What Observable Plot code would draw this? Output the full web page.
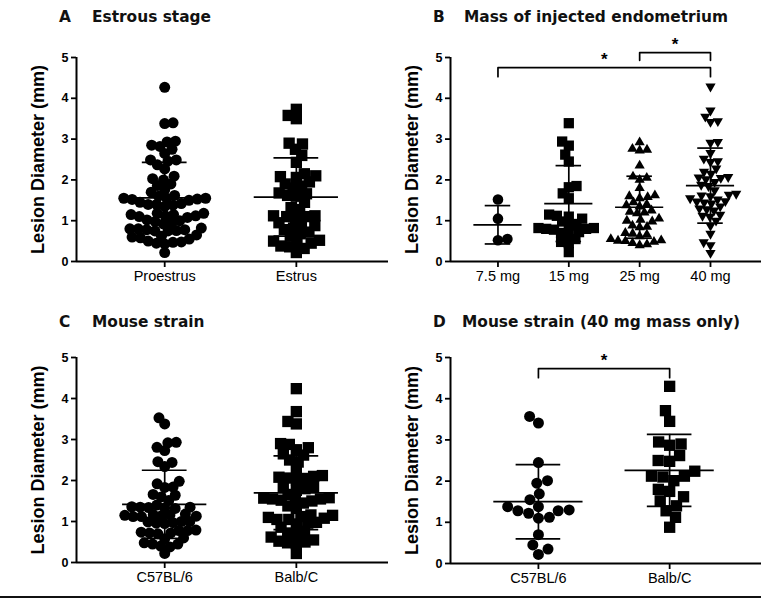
<!DOCTYPE html>
<html>
<head>
<meta charset="utf-8">
<script src="https://cdn.jsdelivr.net/npm/d3@7"></script>
<script src="https://cdn.jsdelivr.net/npm/@observablehq/plot@0.6"></script>
<style>
  body { margin: 0; background: #fff; }
  #wrap { position: relative; width: 761px; height: 607px; background: #fff; overflow: hidden; }
  .panel { position: absolute; }
  .ttl { position: absolute; font-family: "DejaVu Sans", sans-serif; font-weight: bold; font-size: 15.4px; line-height: 15px; color: #111; white-space: nowrap; }
  #rule { position: absolute; left: 0; top: 596px; width: 761px; height: 2px; background: #111; }
  g[aria-label="y-axis tick label"] { font-weight: bold; font-size: 12.5px; }
  g[aria-label="x-axis tick label"] { font-size: 14.5px; }
  g[aria-label="y-axis tick"], g[aria-label="x-axis tick"] { stroke-width: 1.8px; }
</style>
</head>
<body>
<div id="wrap">
  <div class="ttl" style="left:59px;top:10px">A</div>
  <div class="ttl" style="left:92px;top:10px">Estrous stage</div>
  <div class="ttl" style="left:433px;top:10px">B</div>
  <div class="ttl" style="left:464px;top:10px">Mass of injected endometrium</div>
  <div class="ttl" style="left:59px;top:315px">C</div>
  <div class="ttl" style="left:92px;top:315px">Mouse strain</div>
  <div class="ttl" style="left:433px;top:315px">D</div>
  <div class="ttl" style="left:462px;top:315px">Mouse strain (40 mg mass only)</div>
  <div class="panel" id="pa" style="left:0;top:25px"></div>
  <div class="panel" id="pb" style="left:390px;top:25px"></div>
  <div class="panel" id="pc" style="left:0;top:325px"></div>
  <div class="panel" id="pd" style="left:390px;top:325px"></div>
  <div id="rule"></div>
</div>
<script>
// ---------- data ----------
const yTicks = [0, 1, 2, 3, 4, 5];
const yLabel = "Lesion Diameter (mm)";

// A: Estrous stage
const estrousLabels = ["Proestrus", "Estrus"];
const proestrus = [4.27, 3.38, 3.40, 2.95, 2.85, 2.75, 2.65, 2.82, 2.93, 2.49, 2.46, 2.27, 2.37, 2.49,
  2.09, 2.00, 1.90, 2.03, 1.86, 1.76, 1.70, 1.55, 1.53, 1.62, 1.55, 1.60, 1.55, 1.52, 1.50,
  1.42, 1.40, 1.38, 1.45, 1.40, 1.35, 1.18, 1.15, 1.12, 1.15, 1.10, 1.18, 1.12, 1.08,
  1.00, 0.95, 0.98, 0.92, 1.02, 0.80, 0.78, 0.75, 0.82, 0.76, 0.80, 0.78, 0.75,
  0.62, 0.58, 0.60, 0.65, 0.55, 0.48, 0.45, 0.50, 0.43, 0.47, 0.22];
const estrus = [3.73, 3.50, 3.58, 2.75, 2.90, 2.88, 2.60, 2.43, 2.08, 1.95, 2.15, 2.06, 2.10,
  1.90, 1.85, 1.80, 1.66, 1.62, 1.68, 1.60, 1.45, 1.32, 1.27, 1.12, 1.10, 1.08, 1.12, 1.10,
  0.92, 0.88, 0.82, 0.78, 0.72, 0.95, 0.68, 0.62, 0.50, 0.52, 0.45, 0.48, 0.36, 0.38, 0.32, 0.22];
const estrousMean = [1.56, 1.58];
const estrousSD = [0.87, 0.96];

// B: Mass of injected endometrium
const massLabels = ["7.5 mg", "15 mg", "25 mg", "40 mg"];
const mass7_5 = [1.52, 1.05, 0.52, 0.55];
const mass15 = [3.39, 2.94, 2.84, 2.62, 2.45, 1.85, 1.82, 1.67, 1.55, 1.15, 1.12, 1.10, 1.05,
  0.98, 0.92, 0.88, 0.82, 0.80, 0.80, 0.78, 0.82, 0.70, 0.68, 0.72, 0.55, 0.48, 0.45, 0.23];
const mass25 = [2.76, 2.72, 2.74, 2.92, 2.35, 2.08, 2.05, 2.00, 1.80, 1.60, 1.55, 1.58, 1.62,
  1.45, 1.40, 1.35, 1.38, 1.25, 1.20, 1.18, 1.22, 1.05, 1.00, 0.98, 1.02, 0.85, 0.84, 0.88,
  0.70, 0.66, 0.68, 0.62, 0.55, 0.52, 0.50, 0.48, 0.51, 0.45, 0.42, 0.40];
const mass40 = [4.29, 3.70, 3.55, 3.42, 3.44, 2.93, 2.91, 2.66, 2.52, 2.46, 2.44, 2.28, 2.20, 2.15,
  2.06, 2.05, 2.07, 2.02, 1.95, 1.88, 1.85, 1.75, 1.66, 1.62, 1.64, 1.60, 1.55, 1.52,
  1.47, 1.45, 1.48, 1.42, 1.35, 1.30, 1.28, 1.25, 1.15, 1.12, 1.10, 1.00, 0.88, 0.68, 0.47, 0.40, 0.21];
const massMean = [0.90, 1.42, 1.33, 1.86];
const massSD = [0.47, 0.93, 0.76, 0.92];
const massBracketFrom = [0, 2];
const massBracketTo = [3, 3];
const massBracketLevel = [4.75, 5.12];
const massBracketDrop = [4.53, 4.93];

// C: Mouse strain
const strainLabels = ["C57BL/6", "Balb/C"];
const strainC57 = [3.53, 3.38, 2.93, 2.92, 2.81, 2.73, 2.46, 2.44, 2.34, 1.98, 1.92, 1.84, 1.83,
  1.64, 1.66, 1.60, 1.51, 1.40, 1.35, 1.33, 1.36, 1.34, 1.32, 1.35,
  1.15, 1.12, 1.18, 1.16, 1.17, 1.14, 1.12, 1.13, 1.00, 0.97, 0.95, 0.96, 0.99, 1.00,
  0.78, 0.72, 0.70, 0.79, 0.72, 0.74, 0.78, 0.58, 0.60, 0.45, 0.40, 0.38, 0.45, 0.48, 0.22];
const strainBalb = [4.24, 3.68, 3.38, 3.44, 2.90, 2.75, 2.62, 2.80, 2.88, 2.65, 2.50, 2.45, 2.24,
  2.10, 2.05, 2.08, 2.02, 2.12, 2.06, 1.85, 1.80, 1.76, 1.84,
  1.66, 1.58, 1.55, 1.52, 1.57, 1.55, 1.50, 1.54, 1.45, 1.38, 1.32,
  1.15, 1.10, 1.05, 1.08, 1.12, 1.16, 1.05, 0.96, 0.94, 0.98, 0.86,
  0.76, 0.72, 0.68, 0.62, 0.55, 0.50, 0.48, 0.52, 0.46, 0.22];
const strainMean = [1.42, 1.70];
const strainSD = [0.83, 0.90];

// D: Mouse strain (40 mg mass only)
const strain40C57 = [3.57, 3.41, 2.45, 2.01, 1.95, 1.69, 1.55, 1.38, 1.30, 1.22, 1.12, 1.10, 1.28, 1.28, 1.38,
  0.70, 0.45, 0.35, 0.22];
const strain40Balb = [4.30, 3.71, 3.45, 2.95, 2.90, 2.87, 2.62, 2.50, 2.48, 2.12, 2.12, 2.01, 2.10, 2.24,
  1.80, 1.75, 1.62, 1.52, 1.40, 1.28, 1.12, 0.88];
const strain40Mean = [1.50, 2.26];
const strain40SD = [0.90, 0.875];
const strain40BracketFrom = [0];
const strain40BracketTo = [1];
const strain40BracketLevel = [4.73];
const strain40BracketDrop = [4.51];

// ---------- helpers ----------
// centred beeswarm (dodge) in pixel space, overlap allowed via a reduced collision diameter
function swarm(values, diam, pxY) {
  const order = values.map((v, i) => i).sort((a, b) => values[a] - values[b]);
  const placed = [];
  const out = new Array(values.length);
  let flip = 1;
  for (const i of order) {
    const y = values[i] * pxY;
    const cands = [0];
    for (const p of placed) {
      const dy = y - p.y;
      if (Math.abs(dy) < diam) {
        const dx = Math.sqrt(diam * diam - dy * dy);
        cands.push(p.x + dx, p.x - dx);
      }
    }
    cands.sort((a, b) => (Math.abs(a) - Math.abs(b)) || flip * (a - b));
    let x = 0;
    for (const c of cands) {
      if (placed.every(p => (p.x - c) ** 2 + (p.y - y) ** 2 >= diam * diam - 1e-6)) { x = c; break; }
    }
    flip = -flip;
    placed.push({x, y});
    out[i] = x;
  }
  return out;
}

function makePanel(cfg) {
  const {labels, groups, means, sds, symbols, radii, rotations, diams, domainX, width, height,
         margins, brackets, meanHalf, capHalf} = cfg;
  const [mt, mr, mb, ml] = margins;
  const fw = width - ml - mr, fh = height - mt - mb;
  const pxX = fw / (domainX[1] - domainX[0]);
  const pxY = fh / 5;
  const marks = [];
  groups.forEach((vals, i) => {
    const off = swarm(vals, diams[i], pxY);
    const rows = vals.map((v, k) => ({x: i + off[k] / pxX, y: v}));
    marks.push(Plot.dot(rows, {x: "x", y: "y", symbol: symbols[i], r: radii[i], rotate: rotations[i],
      fill: "black", stroke: "none"}));
  });
  const stats = labels.map((l, i) => ({i, m: means[i], s: sds[i]}));
  marks.push(
    Plot.ruleY(stats, {y: "m", x1: d => d.i - meanHalf, x2: d => d.i + meanHalf, stroke: "black", strokeWidth: 1.7}),
    Plot.ruleX(stats, {x: "i", y1: d => d.m - d.s, y2: d => d.m + d.s, stroke: "black", strokeWidth: 1.7}),
    Plot.ruleY(stats, {y: d => d.m + d.s, x1: d => d.i - capHalf, x2: d => d.i + capHalf, stroke: "black", strokeWidth: 1.7}),
    Plot.ruleY(stats, {y: d => d.m - d.s, x1: d => d.i - capHalf, x2: d => d.i + capHalf, stroke: "black", strokeWidth: 1.7})
  );
  if (brackets) {
    const pts = [];
    const mids = [];
    brackets.from.forEach((f, k) => {
      const t = brackets.to[k], lv = brackets.level[k], dr = brackets.drop[k];
      pts.push({x: f, y: dr, k}, {x: f, y: lv, k}, {x: t, y: lv, k}, {x: t, y: dr, k});
      mids.push({x: (f + t) / 2, y: lv});
    });
    marks.push(
      Plot.line(pts, {x: "x", y: "y", z: "k", stroke: "black", strokeWidth: 1.7}),
      Plot.text(mids, {x: "x", y: "y", text: () => "*", fontSize: 17, fontWeight: "bold", dy: -8, fill: "black"})
    );
  }
  marks.push(
    Plot.ruleY([0], {stroke: "black", strokeWidth: 2}),
    Plot.ruleX([domainX[0]], {stroke: "black", strokeWidth: 2}),
    Plot.axisY(yTicks, {tickSize: 5, tickPadding: 3, label: null, stroke: "black"}),
    Plot.axisX(labels.map((l, i) => i), {tickFormat: i => labels[i], tickSize: 6, tickPadding: 3, label: null, stroke: "black"}),
    Plot.text([yLabel], {text: d => d, frameAnchor: "left", textAnchor: "middle", dx: -38, rotate: -90, fontSize: 18,
      fontWeight: "bold", fill: "black"})
  );
  return Plot.plot({
    width, height,
    marginTop: mt, marginRight: mr, marginBottom: mb, marginLeft: ml,
    x: {domain: domainX, axis: null},
    y: {domain: [0, 5], axis: null},
    style: {fontFamily: "'Liberation Sans', Arial, sans-serif", color: "black", background: "transparent", overflow: "visible"},
    marks
  });
}

const twoDomain = [-0.67, 1.70];

document.getElementById("pa").append(makePanel({
  labels: estrousLabels, groups: [proestrus, estrus], means: estrousMean, sds: estrousSD,
  symbols: ["circle", "square"], radii: [5.5, 6.4], rotations: [0, 0], diams: [8.4, 8.8],
  domainX: twoDomain, width: 390, height: 266, margins: [32, 2, 30, 76], meanHalf: 0.32, capHalf: 0.17
}));

document.getElementById("pb").append(makePanel({
  labels: massLabels, groups: [mass7_5, mass15, mass25, mass40], means: massMean, sds: massSD,
  symbols: ["circle", "square", "triangle", "triangle"], radii: [5.3, 5.8, 3.8, 3.8], rotations: [0, 0, 0, 180],
  diams: [9.5, 7.8, 7.4, 7.4],
  domainX: [-0.67, 3.72], width: 371, height: 266, margins: [32, 0, 30, 60], meanHalf: 0.34, capHalf: 0.18,
  brackets: {from: massBracketFrom, to: massBracketTo, level: massBracketLevel, drop: massBracketDrop}
}));

document.getElementById("pc").append(makePanel({
  labels: strainLabels, groups: [strainC57, strainBalb], means: strainMean, sds: strainSD,
  symbols: ["circle", "square"], radii: [5.5, 6.4], rotations: [0, 0], diams: [8.4, 8.8],
  domainX: twoDomain, width: 390, height: 267, margins: [32, 2, 30, 76], meanHalf: 0.32, capHalf: 0.17
}));

document.getElementById("pd").append(makePanel({
  labels: strainLabels, groups: [strain40C57, strain40Balb], means: strain40Mean, sds: strain40SD,
  symbols: ["circle", "square"], radii: [5.5, 6.4], rotations: [0, 0], diams: [11, 11.5],
  domainX: twoDomain, width: 371, height: 268, margins: [32, 0, 30, 60], meanHalf: 0.34, capHalf: 0.17,
  brackets: {from: strain40BracketFrom, to: strain40BracketTo, level: strain40BracketLevel, drop: strain40BracketDrop}
}));
</script>
</body>
</html>
